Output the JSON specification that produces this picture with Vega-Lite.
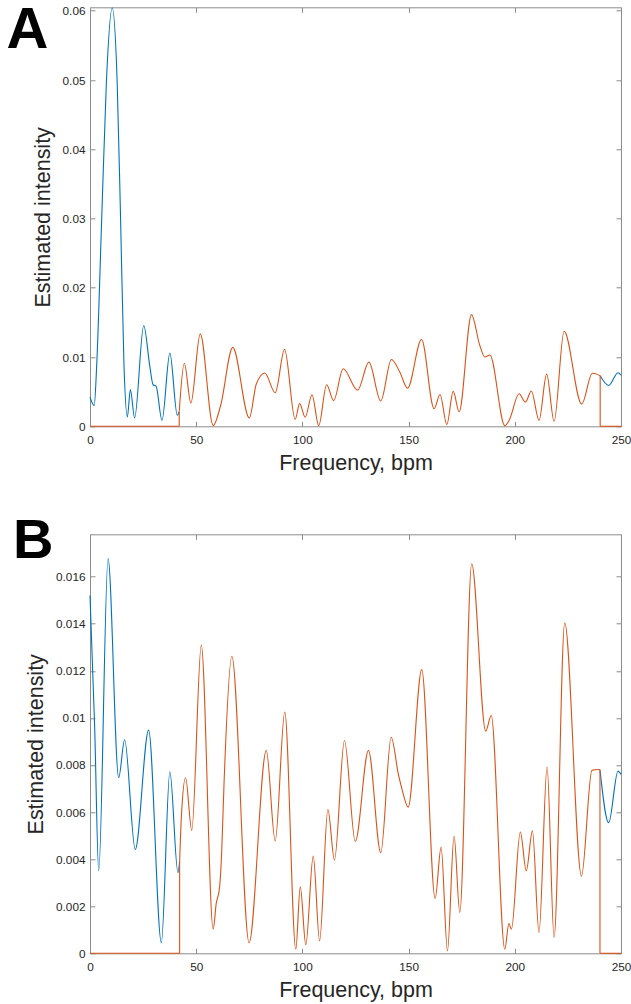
{
"$schema": "https://vega.github.io/schema/vega-lite/v6.json",
"background": "white",
"padding": {"left": 6, "top": 1.3, "right": 2, "bottom": 2},
"bounds": "flush",
"spacing": 108,
"config": {
  "view": {"stroke": null},
  "font": "Liberation Sans",
  "axis": {"domainColor": "#8c8c8c", "tickColor": "#8c8c8c", "domainWidth": 1, "tickWidth": 1, "tickSize": -5, "grid": false,
    "labelColor": "#262626", "labelFont": "Liberation Sans", "labelFontSize": 11.8, "labelFlush": false, "labelOverlap": false,
    "titleFont": "Liberation Sans", "titleFontSize": 21.5, "titleFontWeight": "normal", "titleColor": "#262626"},
  "axisX": {"labelPadding": 13, "titlePadding": 6},
  "axisY": {"labelPadding": 10, "titlePadding": 8}
},
"datasets": {"d": [
{"p":"A","s":"b","g":"b1","x":0,"y":0.0042},
{"p":"A","s":"b","g":"b1","x":2.0,"y":0.0030},
{"p":"A","s":"b","g":"b1","x":3.15,"y":0.0088},
{"p":"A","s":"b","g":"b1","x":5.5,"y":0.0299},
{"p":"A","s":"b","g":"b1","x":7.7,"y":0.0496},
{"p":"A","s":"b","g":"b1","x":10.45,"y":0.0604},
{"p":"A","s":"b","g":"b1","x":12.8,"y":0.0496},
{"p":"A","s":"b","g":"b1","x":14.4,"y":0.0299},
{"p":"A","s":"b","g":"b1","x":16.0,"y":0.0088},
{"p":"A","s":"b","g":"b1","x":17.6,"y":0.00135},
{"p":"A","s":"b","g":"b1","x":19.0,"y":0.0053},
{"p":"A","s":"b","g":"b1","x":21.0,"y":0.0012},
{"p":"A","s":"b","g":"b1","x":25.3,"y":0.01455},
{"p":"A","s":"b","g":"b1","x":28.1,"y":0.0088},
{"p":"A","s":"b","g":"b1","x":29.7,"y":0.0060},
{"p":"A","s":"b","g":"b1","x":31.1,"y":0.0058},
{"p":"A","s":"b","g":"b1","x":33.9,"y":0.00086},
{"p":"A","s":"b","g":"b1","x":37.6,"y":0.01057},
{"p":"A","s":"b","g":"b1","x":41.1,"y":0.0016},
{"p":"A","s":"b","g":"b1","x":42.0,"y":0.0021},
{"p":"A","s":"b","g":"b2","x":240.2,"y":0.0073},
{"p":"A","s":"b","g":"b2","x":244.2,"y":0.0059},
{"p":"A","s":"b","g":"b2","x":248.6,"y":0.00773},
{"p":"A","s":"b","g":"b2","x":250,"y":0.0074},
{"p":"A","s":"o","g":"o1","x":42.0,"y":0.0021},
{"p":"A","s":"o","g":"o1","x":44.4,"y":0.0091},
{"p":"A","s":"o","g":"o1","x":47.5,"y":0.00337},
{"p":"A","s":"o","g":"o1","x":51.9,"y":0.01335},
{"p":"A","s":"o","g":"o1","x":58.0,"y":0.0001},
{"p":"A","s":"o","g":"o1","x":61.5,"y":0.0030},
{"p":"A","s":"o","g":"o1","x":67.2,"y":0.0114},
{"p":"A","s":"o","g":"o1","x":75.0,"y":0.0012},
{"p":"A","s":"o","g":"o1","x":78.3,"y":0.0061},
{"p":"A","s":"o","g":"o1","x":82.3,"y":0.0077},
{"p":"A","s":"o","g":"o1","x":87.2,"y":0.00485},
{"p":"A","s":"o","g":"o1","x":91.6,"y":0.0111},
{"p":"A","s":"o","g":"o1","x":96.6,"y":0.0010},
{"p":"A","s":"o","g":"o1","x":98.7,"y":0.00327},
{"p":"A","s":"o","g":"o1","x":101.3,"y":0.0013},
{"p":"A","s":"o","g":"o1","x":104.5,"y":0.00456},
{"p":"A","s":"o","g":"o1","x":107.7,"y":0.0001},
{"p":"A","s":"o","g":"o1","x":111.4,"y":0.0060},
{"p":"A","s":"o","g":"o1","x":114.7,"y":0.0037},
{"p":"A","s":"o","g":"o1","x":119.2,"y":0.0083},
{"p":"A","s":"o","g":"o1","x":126.0,"y":0.0052},
{"p":"A","s":"o","g":"o1","x":131.3,"y":0.00927},
{"p":"A","s":"o","g":"o1","x":136.9,"y":0.00366},
{"p":"A","s":"o","g":"o1","x":141.9,"y":0.00965},
{"p":"A","s":"o","g":"o1","x":145.9,"y":0.0078},
{"p":"A","s":"o","g":"o1","x":149.5,"y":0.0055},
{"p":"A","s":"o","g":"o1","x":156.1,"y":0.01253},
{"p":"A","s":"o","g":"o1","x":162.0,"y":0.00255},
{"p":"A","s":"o","g":"o1","x":164.8,"y":0.0046},
{"p":"A","s":"o","g":"o1","x":168.0,"y":0.00025},
{"p":"A","s":"o","g":"o1","x":171.0,"y":0.00504},
{"p":"A","s":"o","g":"o1","x":173.8,"y":0.0021},
{"p":"A","s":"o","g":"o1","x":179.6,"y":0.01613},
{"p":"A","s":"o","g":"o1","x":183.5,"y":0.0117},
{"p":"A","s":"o","g":"o1","x":185.9,"y":0.0100},
{"p":"A","s":"o","g":"o1","x":188.3,"y":0.0103},
{"p":"A","s":"o","g":"o1","x":195.3,"y":0.0001},
{"p":"A","s":"o","g":"o1","x":197.4,"y":0.0009},
{"p":"A","s":"o","g":"o1","x":202.0,"y":0.0047},
{"p":"A","s":"o","g":"o1","x":205.0,"y":0.0035},
{"p":"A","s":"o","g":"o1","x":207.8,"y":0.0051},
{"p":"A","s":"o","g":"o1","x":211.4,"y":0.00086},
{"p":"A","s":"o","g":"o1","x":215.0,"y":0.00754},
{"p":"A","s":"o","g":"o1","x":218.5,"y":0.00072},
{"p":"A","s":"o","g":"o1","x":223.2,"y":0.01373},
{"p":"A","s":"o","g":"o1","x":231.5,"y":0.0032},
{"p":"A","s":"o","g":"o1","x":236.5,"y":0.00765},
{"p":"A","s":"o","g":"o1","x":240.2,"y":0.0073},
{"p":"A","s":"o","g":"e1","x":0,"y":0},
{"p":"A","s":"o","g":"e1","x":42.0,"y":0},
{"p":"A","s":"o","g":"e2","x":42.0,"y":0},
{"p":"A","s":"o","g":"e2","x":42.0,"y":0.0021},
{"p":"A","s":"o","g":"e3","x":240.2,"y":0.0073},
{"p":"A","s":"o","g":"e3","x":240.2,"y":0},
{"p":"A","s":"o","g":"e4","x":240.2,"y":0},
{"p":"A","s":"o","g":"e4","x":250,"y":0},
{"p":"B","s":"b","g":"b1","x":0,"y":0.0152},
{"p":"B","s":"b","g":"b1","x":2.2,"y":0.0096},
{"p":"B","s":"b","g":"b1","x":4.1,"y":0.0035},
{"p":"B","s":"b","g":"b1","x":8.5,"y":0.01677},
{"p":"B","s":"b","g":"b1","x":13.5,"y":0.00746},
{"p":"B","s":"b","g":"b1","x":16.3,"y":0.00907},
{"p":"B","s":"b","g":"b1","x":21.3,"y":0.00441},
{"p":"B","s":"b","g":"b1","x":27.6,"y":0.00948},
{"p":"B","s":"b","g":"b1","x":33.6,"y":0.00045},
{"p":"B","s":"b","g":"b1","x":37.6,"y":0.00771},
{"p":"B","s":"b","g":"b1","x":41.4,"y":0.00342},
{"p":"B","s":"b","g":"b1","x":42.2,"y":0.0039},
{"p":"B","s":"b","g":"b2","x":240.1,"y":0.0078},
{"p":"B","s":"b","g":"b2","x":244.2,"y":0.00555},
{"p":"B","s":"b","g":"b2","x":248.6,"y":0.00774},
{"p":"B","s":"b","g":"b2","x":250,"y":0.0076},
{"p":"B","s":"o","g":"o1","x":42.2,"y":0.0039},
{"p":"B","s":"o","g":"o1","x":43.0,"y":0.00576},
{"p":"B","s":"o","g":"o1","x":45.0,"y":0.00746},
{"p":"B","s":"o","g":"o1","x":47.9,"y":0.00522},
{"p":"B","s":"o","g":"o1","x":52.4,"y":0.01309},
{"p":"B","s":"o","g":"o1","x":58.0,"y":0.00102},
{"p":"B","s":"o","g":"o1","x":59.4,"y":0.0021},
{"p":"B","s":"o","g":"o1","x":61.0,"y":0.0028},
{"p":"B","s":"o","g":"o1","x":62.0,"y":0.0043},
{"p":"B","s":"o","g":"o1","x":63.1,"y":0.0072},
{"p":"B","s":"o","g":"o1","x":66.8,"y":0.01262},
{"p":"B","s":"o","g":"o1","x":74.9,"y":0.00045},
{"p":"B","s":"o","g":"o1","x":83.0,"y":0.00862},
{"p":"B","s":"o","g":"o1","x":87.2,"y":0.00477},
{"p":"B","s":"o","g":"o1","x":91.7,"y":0.01025},
{"p":"B","s":"o","g":"o1","x":96.9,"y":0.00017},
{"p":"B","s":"o","g":"o1","x":99.0,"y":0.00282},
{"p":"B","s":"o","g":"o1","x":101.6,"y":0.00036},
{"p":"B","s":"o","g":"o1","x":105.1,"y":0.00413},
{"p":"B","s":"o","g":"o1","x":108.1,"y":0.00053},
{"p":"B","s":"o","g":"o1","x":112.0,"y":0.00611},
{"p":"B","s":"o","g":"o1","x":115.1,"y":0.00396},
{"p":"B","s":"o","g":"o1","x":119.8,"y":0.00904},
{"p":"B","s":"o","g":"o1","x":124.9,"y":0.00475},
{"p":"B","s":"o","g":"o1","x":131.1,"y":0.00862},
{"p":"B","s":"o","g":"o1","x":136.9,"y":0.00427},
{"p":"B","s":"o","g":"o1","x":141.8,"y":0.00918},
{"p":"B","s":"o","g":"o1","x":145.2,"y":0.0076},
{"p":"B","s":"o","g":"o1","x":147.1,"y":0.0069},
{"p":"B","s":"o","g":"o1","x":149.8,"y":0.00621},
{"p":"B","s":"o","g":"o1","x":156.2,"y":0.01205},
{"p":"B","s":"o","g":"o1","x":162.5,"y":0.00233},
{"p":"B","s":"o","g":"o1","x":165.3,"y":0.00451},
{"p":"B","s":"o","g":"o1","x":168.3,"y":0.0001},
{"p":"B","s":"o","g":"o1","x":171.4,"y":0.00498},
{"p":"B","s":"o","g":"o1","x":174.1,"y":0.00173},
{"p":"B","s":"o","g":"o1","x":179.7,"y":0.01655},
{"p":"B","s":"o","g":"o1","x":186.3,"y":0.00944},
{"p":"B","s":"o","g":"o1","x":188.9,"y":0.0101},
{"p":"B","s":"o","g":"o1","x":195.3,"y":0.00017},
{"p":"B","s":"o","g":"o1","x":197.2,"y":0.00126},
{"p":"B","s":"o","g":"o1","x":198.4,"y":0.00102},
{"p":"B","s":"o","g":"o1","x":202.6,"y":0.00515},
{"p":"B","s":"o","g":"o1","x":205.4,"y":0.0035},
{"p":"B","s":"o","g":"o1","x":208.3,"y":0.0052},
{"p":"B","s":"o","g":"o1","x":211.4,"y":0.00088},
{"p":"B","s":"o","g":"o1","x":215.2,"y":0.00791},
{"p":"B","s":"o","g":"o1","x":218.5,"y":0.00067},
{"p":"B","s":"o","g":"o1","x":223.5,"y":0.01404},
{"p":"B","s":"o","g":"o1","x":231.4,"y":0.00328},
{"p":"B","s":"o","g":"o1","x":236.3,"y":0.00777},
{"p":"B","s":"o","g":"o1","x":239.2,"y":0.00781},
{"p":"B","s":"o","g":"o1","x":240.1,"y":0.0078},
{"p":"B","s":"o","g":"e1","x":0,"y":0},
{"p":"B","s":"o","g":"e1","x":42.2,"y":0},
{"p":"B","s":"o","g":"e2","x":42.2,"y":0},
{"p":"B","s":"o","g":"e2","x":42.2,"y":0.0039},
{"p":"B","s":"o","g":"e3","x":240.1,"y":0.0078},
{"p":"B","s":"o","g":"e3","x":240.1,"y":0},
{"p":"B","s":"o","g":"e4","x":240.1,"y":0},
{"p":"B","s":"o","g":"e4","x":250,"y":0}
]},
"vconcat": [
{
  "width": 531, "height": 419,
  "title": {"text": "A", "anchor": "start", "frame": "group", "fontSize": 58, "fontWeight": "bold", "font": "Liberation Sans", "color": "#000000", "dx": -83.5, "dy": 54.5, "offset": 0, "baseline": "top"},
  "data": {"name": "d"},
  "transform": [{"filter": "datum.p == 'A'"}],
  "layer": [
    {"transform": [{"filter": "datum.s == 'b'"}],
     "mark": {"type": "line", "color": "#0072BD", "strokeWidth": 1.1, "interpolate": "monotone"},
     "encoding": {
       "x": {"field": "x", "type": "quantitative", "scale": {"domain": [0, 250], "nice": false, "zero": false},
             "axis": {"orient": "bottom", "values": [0, 50, 100, 150, 200, 250], "title": "Frequency, bpm"}},
       "y": {"field": "y", "type": "quantitative", "scale": {"domain": [0, 0.0605], "nice": false},
             "axis": {"orient": "left", "values": [0, 0.01, 0.02, 0.03, 0.04, 0.05, 0.06], "format": "~g", "title": "Estimated intensity"}},
       "detail": {"field": "g"}}},
    {"transform": [{"filter": "datum.s == 'o'"}],
     "mark": {"type": "line", "color": "#D95319", "strokeWidth": 1.1, "interpolate": "monotone"},
     "encoding": {
       "x": {"field": "x", "type": "quantitative", "scale": {"domain": [0, 250], "nice": false, "zero": false},
             "axis": {"orient": "top", "values": [0, 50, 100, 150, 200, 250], "labels": false, "title": null}},
       "y": {"field": "y", "type": "quantitative", "scale": {"domain": [0, 0.0605], "nice": false},
             "axis": {"orient": "right", "values": [0, 0.01, 0.02, 0.03, 0.04, 0.05, 0.06], "labels": false, "title": null}},
       "detail": {"field": "g"}}}
  ],
  "resolve": {"axis": {"x": "independent", "y": "independent"}}
},
{
  "width": 531, "height": 419,
  "title": {"text": "B", "anchor": "start", "frame": "group", "fontSize": 56, "fontWeight": "bold", "font": "Liberation Sans", "color": "#000000", "dx": -77, "dy": 36, "offset": 0, "baseline": "top"},
  "data": {"name": "d"},
  "transform": [{"filter": "datum.p == 'B'"}],
  "layer": [
    {"transform": [{"filter": "datum.s == 'b'"}],
     "mark": {"type": "line", "color": "#0072BD", "strokeWidth": 1.1, "interpolate": "monotone"},
     "encoding": {
       "x": {"field": "x", "type": "quantitative", "scale": {"domain": [0, 250], "nice": false, "zero": false},
             "axis": {"orient": "bottom", "values": [0, 50, 100, 150, 200, 250], "title": "Frequency, bpm"}},
       "y": {"field": "y", "type": "quantitative", "scale": {"domain": [0, 0.0178], "nice": false},
             "axis": {"orient": "left", "values": [0, 0.002, 0.004, 0.006, 0.008, 0.01, 0.012, 0.014, 0.016], "format": "~g", "title": "Estimated intensity"}},
       "detail": {"field": "g"}}},
    {"transform": [{"filter": "datum.s == 'o'"}],
     "mark": {"type": "line", "color": "#D95319", "strokeWidth": 1.1, "interpolate": "monotone"},
     "encoding": {
       "x": {"field": "x", "type": "quantitative", "scale": {"domain": [0, 250], "nice": false, "zero": false},
             "axis": {"orient": "top", "values": [0, 50, 100, 150, 200, 250], "labels": false, "title": null}},
       "y": {"field": "y", "type": "quantitative", "scale": {"domain": [0, 0.0178], "nice": false},
             "axis": {"orient": "right", "values": [0, 0.002, 0.004, 0.006, 0.008, 0.01, 0.012, 0.014, 0.016], "labels": false, "title": null}},
       "detail": {"field": "g"}}}
  ],
  "resolve": {"axis": {"x": "independent", "y": "independent"}}
}
]
}
